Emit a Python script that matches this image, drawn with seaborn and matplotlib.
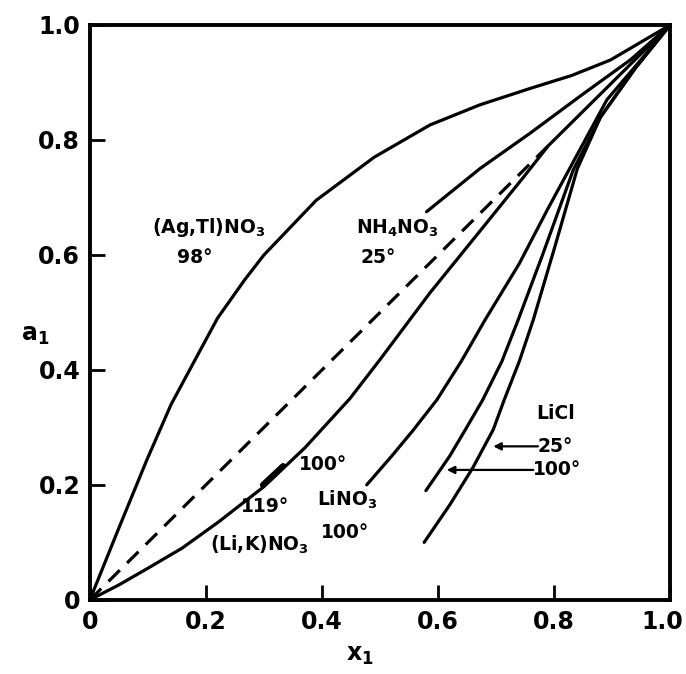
import matplotlib
matplotlib.use("Agg")
import matplotlib.pyplot as plt
import matplotlib.transforms as mtransforms
import seaborn as sns

# ---- data (x1 = mole fraction, a1 = activity) ----
agtl_x = [0, 0.05, 0.098, 0.14, 0.181, 0.22, 0.267, 0.30, 0.39, 0.49, 0.586, 0.672, 0.76, 0.83, 0.897, 1.0]
agtl_y = [0, 0.125, 0.243, 0.34, 0.417, 0.49, 0.557, 0.60, 0.695, 0.77, 0.826, 0.861, 0.89, 0.912, 0.939, 1.0]

ideal_x = [0, 0.79]
ideal_y = [0, 0.79]

nh4_x = [0.58, 0.672, 0.759, 0.85, 0.931, 1.0]
nh4_y = [0.675, 0.75, 0.812, 0.88, 0.939, 1.0]

lik_x = [0, 0.05, 0.10, 0.159, 0.221, 0.30, 0.371, 0.448, 0.50, 0.586, 0.675, 0.747, 0.79, 0.9, 1.0]
lik_y = [0, 0.026, 0.055, 0.09, 0.135, 0.197, 0.265, 0.35, 0.418, 0.534, 0.645, 0.735, 0.79, 0.9, 1.0]

lik100_x = [0.298, 0.333]
lik100_y = [0.200, 0.233]

lino3_x = [0.477, 0.52, 0.557, 0.598, 0.64, 0.681, 0.74, 0.788, 0.84, 0.891, 0.95, 1.0]
lino3_y = [0.20, 0.25, 0.295, 0.348, 0.415, 0.487, 0.585, 0.678, 0.775, 0.87, 0.94, 1.0]

licl25_x = [0.579, 0.62, 0.647, 0.677, 0.71, 0.738, 0.78, 0.833, 0.88, 0.94, 1.0]
licl25_y = [0.19, 0.25, 0.296, 0.348, 0.415, 0.487, 0.60, 0.748, 0.84, 0.925, 1.0]

licl100_x = [0.576, 0.62, 0.66, 0.695, 0.714, 0.74, 0.764, 0.80, 0.84, 0.88, 0.94, 1.0]
licl100_y = [0.10, 0.165, 0.23, 0.296, 0.348, 0.415, 0.487, 0.61, 0.75, 0.84, 0.925, 1.0]

ticks = [0, 0.2, 0.4, 0.6, 0.8, 1.0]
tick_labels = ["0", "0.2", "0.4", "0.6", "0.8", "1.0"]

# ---- style ----
sns.set_style("ticks")
plt.rcParams["font.family"] = ["DejaVu Sans"]
plt.rcParams["font.weight"] = "bold"
plt.rcParams["mathtext.default"] = "bf"
plt.rcParams["text.color"] = "black"
plt.rcParams["xtick.color"] = "black"
plt.rcParams["ytick.color"] = "black"
plt.rcParams["axes.labelcolor"] = "black"

fig = plt.figure(figsize=(6.86, 6.74), dpi=100)
ax = fig.add_axes([0.131, 0.110, 0.846, 0.853])

lw = 2.3
for xs, ys in [(agtl_x, agtl_y), (nh4_x, nh4_y), (lik_x, lik_y),
               (lino3_x, lino3_y), (licl25_x, licl25_y), (licl100_x, licl100_y)]:
    sns.lineplot(x=xs, y=ys, ax=ax, color="black", lw=lw, sort=False,
                 estimator=None, clip_on=False)

sns.lineplot(x=lik100_x, y=lik100_y, ax=ax, color="black", lw=4.2, sort=False,
             estimator=None)
sns.lineplot(x=ideal_x, y=ideal_y, ax=ax, color="black", lw=lw, sort=False,
             estimator=None, linestyle=(0, (5, 3.2)))

ax.set_xlim(0, 1)
ax.set_ylim(0, 1)
ax.set_xticks(ticks)
ax.set_yticks(ticks)
ax.set_xticklabels(tick_labels)
ax.set_yticklabels(tick_labels)
ax.tick_params(direction="in", length=11, width=2, labelsize=17, pad=7,
               top=False, right=False, colors="black")
for s in ax.spines.values():
    s.set_linewidth(2.8)
    s.set_color("black")

# keep the last x tick label inside the figure
last = ax.get_xticklabels()[-1]
last.set_transform(last.get_transform() +
                   mtransforms.ScaledTranslation(-6 / 72, 0, fig.dpi_scale_trans))

ax.set_xlabel("")
ax.set_ylabel("")
ax.text(-0.095, 0.46, "a$_1$", transform=ax.transAxes, fontsize=17,
        ha="center", va="center")
ax.text(0.466, -0.096, "x$_1$", transform=ax.transAxes, fontsize=17,
        ha="center", va="center")

# ---- curve labels ----
fs = 13.5
ax.text(0.204, 0.647, "(Ag,Tl)NO$_3$", fontsize=fs, ha="center", va="center")
ax.text(0.181, 0.595, "98°", fontsize=fs, ha="center", va="center")
ax.text(0.529, 0.647, "NH$_4$NO$_3$", fontsize=fs, ha="center", va="center")
ax.text(0.497, 0.595, "25°", fontsize=fs, ha="center", va="center")
ax.text(0.402, 0.235, "100°", fontsize=fs, ha="center", va="center")
ax.text(0.302, 0.162, "119°", fontsize=fs, ha="center", va="center")
ax.text(0.292, 0.096, "(Li,K)NO$_3$", fontsize=fs, ha="center", va="center")
ax.text(0.443, 0.174, "LiNO$_3$", fontsize=fs, ha="center", va="center")
ax.text(0.440, 0.118, "100°", fontsize=fs, ha="center", va="center")
ax.text(0.802, 0.325, "LiCl", fontsize=fs, ha="center", va="center")
ax.text(0.772, 0.267, "25°", fontsize=fs, ha="left", va="center")
ax.text(0.764, 0.226, "100°", fontsize=fs, ha="left", va="center")

arrow = dict(arrowstyle="-|>", color="black", lw=1.6, mutation_scale=11,
             shrinkA=0, shrinkB=0)
ax.annotate("", xy=(0.695, 0.267), xytext=(0.772, 0.267), arrowprops=arrow)
ax.annotate("", xy=(0.615, 0.226), xytext=(0.764, 0.226), arrowprops=arrow)

fig.savefig("out.png", dpi=100)
